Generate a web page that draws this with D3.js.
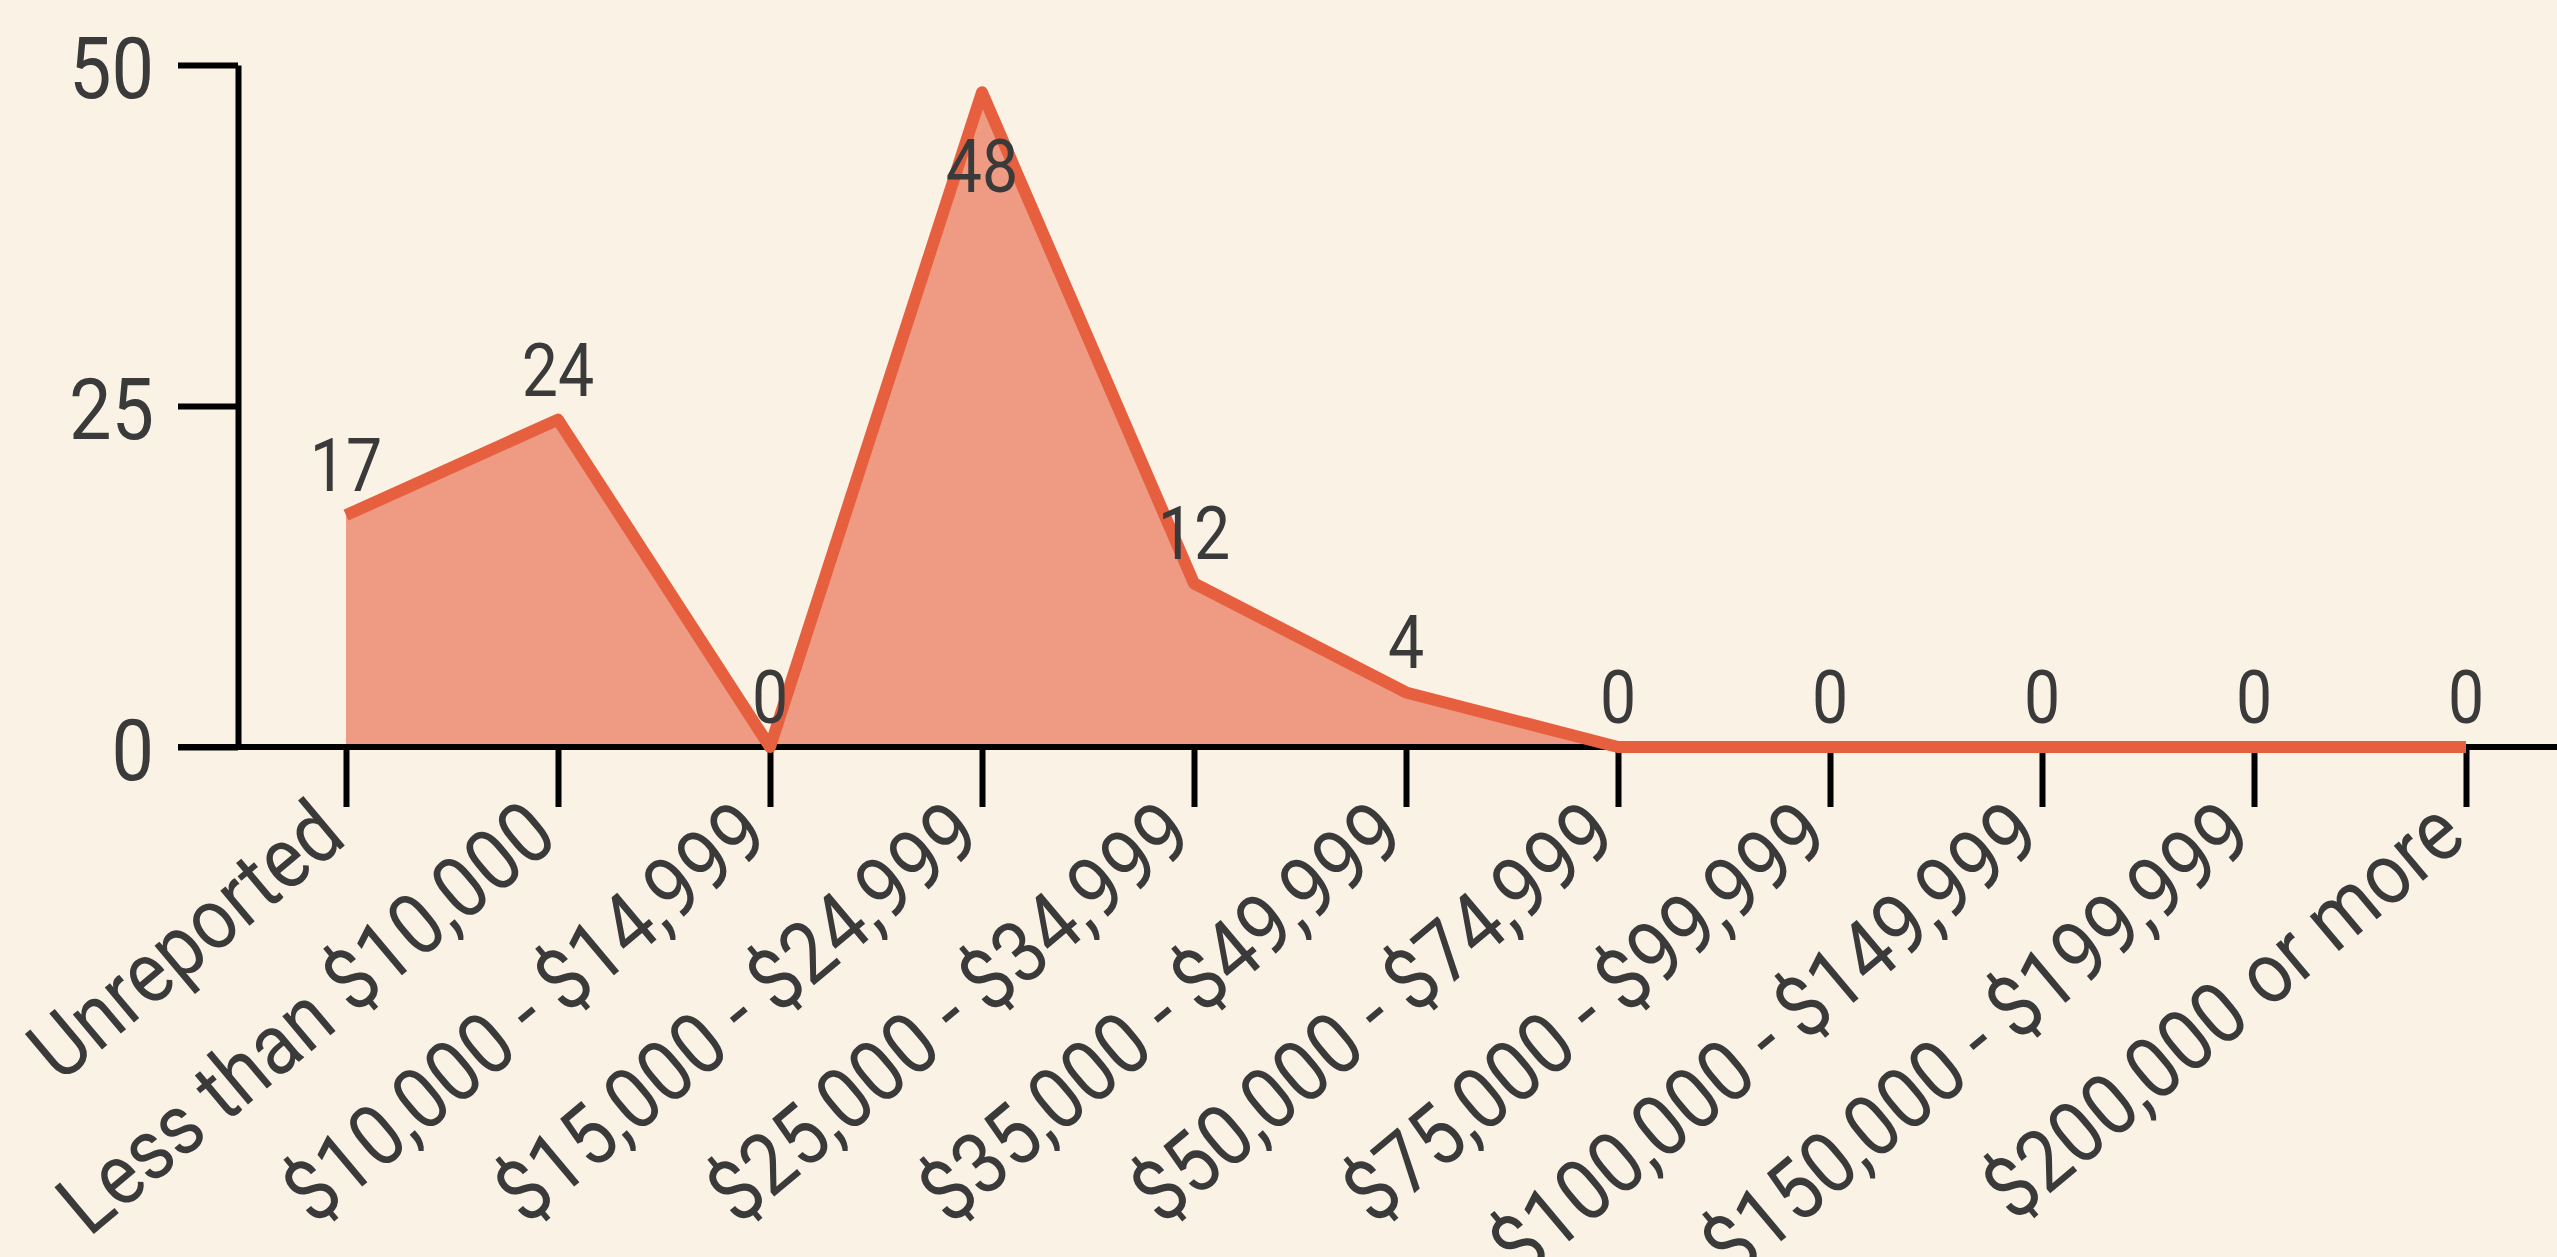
<!DOCTYPE html>
<html>
<head>
<meta charset="utf-8">
<script src="https://cdn.jsdelivr.net/npm/d3@7"></script>
<style>
  html, body { margin: 0; padding: 0; background: #faf2e4; }
  svg { display: block; }
  text { font-family: Roboto, sans-serif; }
</style>
</head>
<body>
<svg id="chart" width="2557" height="1257"></svg>
<script>
const categories = ["Unreported", "Less than $10,000", "$10,000 - $14,999", "$15,000 - $24,999",
  "$25,000 - $34,999", "$35,000 - $49,999", "$50,000 - $74,999", "$75,000 - $99,999",
  "$100,000 - $149,999", "$150,000 - $199,999", "$200,000 or more"];
const values = [17, 24, 0, 48, 12, 4, 0, 0, 0, 0, 0];
const yTicks = [0, 25, 50];

(function () {
const W = 2557, H = 1257;
const mLeft = 238, mTop = 65, mBottom = 747;
const tickLen = 60;

const svg = d3.select("#chart");
svg.append("rect").attr("width", W).attr("height", H).attr("fill", "#faf2e4");

const x = d3.scalePoint().domain(categories).range([346, 2466]);
const y = d3.scaleLinear().domain([0, 50]).range([mBottom, mTop]);

const data = categories.map((c, i) => ({c, v: values[i]}));

svg.append("path").datum(data)
  .attr("fill", "#ef9a82")
  .attr("d", d3.area().x(d => x(d.c)).y0(y(0)).y1(d => y(d.v)));

// y axis
const ySx = 0.88;
const gy = svg.append("g").attr("transform", `translate(${mLeft},0)`)
  .call(d3.axisLeft(y).tickValues(yTicks).tickSize(tickLen).tickSizeOuter(0));
gy.select(".domain").attr("stroke", "#000").attr("stroke-width", 6);
gy.selectAll(".tick line").attr("stroke", "#000").attr("stroke-width", 6);
gy.selectAll(".tick text")
  .attr("font-size", 86).attr("fill", "#3a3a3a")
  .attr("dy", "0.38em")
  .attr("transform", `scale(${ySx},1)`)
  .attr("x", -(tickLen + 24) / ySx);

// x axis
const xSx = 0.88;
const gx = svg.append("g").attr("transform", `translate(0,${mBottom})`)
  .call(d3.axisBottom(x).tickSize(tickLen).tickSizeOuter(0));
gx.select(".domain").attr("d", `M178,0H${W}`).attr("stroke", "#000").attr("stroke-width", 6);
gx.selectAll(".tick line").attr("stroke", "#000").attr("stroke-width", 6);
gx.selectAll(".tick text")
  .attr("font-size", 86).attr("fill", "#3a3a3a")
  .attr("text-anchor", "end")
  .attr("y", 0).attr("dy", "0.35em")
  .attr("transform", `translate(-17,72) rotate(-40) scale(${xSx},1)`);

// line
svg.append("path").datum(data)
  .attr("fill", "none")
  .attr("stroke", "#e65f3e")
  .attr("stroke-width", 12)
  .attr("stroke-linejoin", "round")
  .attr("d", d3.line().x(d => x(d.c)).y(d => y(d.v)));

// value labels
const vSx = 0.87;
svg.append("g").selectAll("text").data(data).join("text")
  .attr("text-anchor", "middle")
  .attr("font-size", 74).attr("fill", "#3a3a3a")
  .attr("transform", d => {
    const ly = y(d.v) - 24 < 110 ? y(d.v) + 100 : y(d.v) - 24;
    return `translate(${x(d.c)},${ly}) scale(${vSx},1)`;
  })
  .text(d => d.v);
})();
</script>
</body>
</html>
